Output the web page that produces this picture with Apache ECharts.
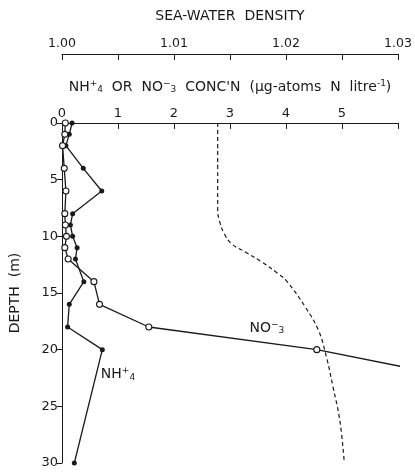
<!DOCTYPE html>
<html>
<head>
<meta charset="utf-8">
<script src="https://cdn.jsdelivr.net/npm/echarts@6/dist/echarts.min.js"></script>
<style>
  html, body { margin: 0; padding: 0; background: #ffffff; }
  #chart { width: 415px; height: 475px; }
</style>
</head>
<body>
<div id="chart"></div>
<script>
// ---- Data ----
const nh4Depth = [0, 1, 2, 4, 6, 8, 9, 10, 11, 12, 14, 16, 18, 20, 30];
const nh4Conc  = [0.18, 0.13, 0.07, 0.38, 0.71, 0.19, 0.15, 0.19, 0.27, 0.24, 0.39, 0.13, 0.10, 0.72, 0.22];

const no3Depth = [0, 1, 2, 4, 6, 8, 9, 10, 11, 12, 14, 16, 18, 20];
const no3Conc  = [0.06, 0.05, 0.01, 0.04, 0.07, 0.05, 0.06, 0.08, 0.05, 0.11, 0.57, 0.67, 1.55, 4.55];

// continuation of the NO3- line beyond the last sample
const no3TailDepth = [20, 21.5];
const no3TailConc  = [4.55, 6.08];

const densityDepth = [0, 2, 4, 6, 7.7, 8.6, 9.8, 10.7, 11.4, 12.3, 13.3, 14.0, 16.2, 18.3, 20.6, 23.3, 26.2, 29.9];
const densityVal   = [1.0139, 1.0139, 1.0139, 1.0139, 1.0139, 1.01405, 1.0145, 1.0152, 1.0164, 1.0179, 1.0193, 1.0201, 1.0217, 1.0229, 1.0236, 1.0242, 1.0248, 1.0252];

const concTicks    = [0, 1, 2, 3, 4, 5];
const densityTicks = ['1.00', '1.01', '1.02', '1.03'];
const depthTicks   = [0, 5, 10, 15, 20, 25, 30];

// annotation anchors (data coordinates)
const labelNO3 = [3.66, 18.1];
const labelNH4 = [1.0, 22.2];

const zip = (xs, ys) => xs.map((x, i) => [x, ys[i]]);

const FONT = 'DejaVu Sans';
const INK = '#1a1a1a';

const chart = echarts.init(document.getElementById('chart'), null, { renderer: 'canvas' });

const supsub = {
  sup: { fontFamily: FONT, fontSize: 9, color: INK, padding: [0, 0, 7, 0] },
  sub: { fontFamily: FONT, fontSize: 9, color: INK, padding: [6, 0, 0, 0] }
};

chart.setOption({
  backgroundColor: '#ffffff',
  animation: false,
  grid: { left: 57, right: 17, top: 123, bottom: 12, containLabel: false },
  xAxis: [
    {
      type: 'value', position: 'top', min: 0, max: 6, interval: 1,
      name: "NH{sup|+}{sub|4}  OR  NO{sup|−}{sub|3}  CONC'N  (µg-atoms  N  litre{sup|-1})",
      nameLocation: 'middle', nameGap: 28,
      nameTextStyle: { fontFamily: FONT, fontSize: 14, color: INK, rich: supsub },
      axisLine: { show: true, lineStyle: { color: INK, width: 1 } },
      axisTick: { show: true, inside: true, length: 6, lineStyle: { color: INK } },
      axisLabel: {
        margin: 3, fontFamily: FONT, fontSize: 13, color: INK,
        showMinLabel: true, showMaxLabel: true,
        formatter: v => (concTicks.indexOf(v) >= 0 ? String(v) : '')
      },
      splitLine: { show: false }
    },
    {
      type: 'value', position: 'top', offset: 69, min: 1.0, max: 1.03, interval: 0.005,
      name: 'SEA-WATER  DENSITY',
      nameLocation: 'middle', nameGap: 31,
      nameTextStyle: { fontFamily: FONT, fontSize: 14, color: INK },
      axisLine: { show: true, lineStyle: { color: INK, width: 1 } },
      axisTick: { show: true, inside: true, length: 6, lineStyle: { color: INK } },
      axisLabel: {
        margin: 4, fontFamily: FONT, fontSize: 12.5, color: INK,
        showMinLabel: true, showMaxLabel: true,
        formatter: v => { const s = v.toFixed(2); return (Math.abs(v * 100 - Math.round(v * 100)) < 1e-6 && densityTicks.indexOf(s) >= 0) ? s : ''; }
      },
      splitLine: { show: false }
    }
  ],
  yAxis: {
    type: 'value', inverse: true, min: 0, max: 30, interval: 5,
    name: 'DEPTH  (m)', nameLocation: 'middle', nameGap: 40, nameRotate: 90,
    nameTextStyle: { fontFamily: FONT, fontSize: 14, color: INK },
    axisLine: { show: true, lineStyle: { color: INK, width: 1 } },
    axisTick: { show: true, inside: false, length: 5, lineStyle: { color: INK } },
    axisLabel: {
      margin: 4, fontFamily: FONT, fontSize: 13, color: INK,
      formatter: v => (depthTicks.indexOf(v) >= 0 ? String(v) : '')
    },
    splitLine: { show: false }
  },
  series: [
    {
      name: 'density', type: 'line', xAxisIndex: 1, yAxisIndex: 0,
      data: zip(densityVal, densityDepth), smooth: 0.4, showSymbol: false,
      lineStyle: { color: INK, width: 1.2, type: [4, 3] }
    },
    {
      name: 'NO3 tail', type: 'line', xAxisIndex: 0, yAxisIndex: 0, clip: false,
      data: zip(no3TailConc, no3TailDepth), showSymbol: false,
      lineStyle: { color: INK, width: 1.4 }
    },
    {
      name: 'NH4', type: 'line', xAxisIndex: 0, yAxisIndex: 0, clip: false,
      data: zip(nh4Conc, nh4Depth), symbol: 'circle', symbolSize: 5,
      lineStyle: { color: INK, width: 1.3 },
      itemStyle: { color: INK, borderColor: INK, borderWidth: 0 }, z: 3
    },
    {
      name: 'NO3', type: 'line', xAxisIndex: 0, yAxisIndex: 0, clip: false,
      data: zip(no3Conc, no3Depth), symbol: 'circle', symbolSize: 6,
      lineStyle: { color: INK, width: 1.3 },
      itemStyle: { color: '#ffffff', borderColor: INK, borderWidth: 1.1 }, z: 4
    }
  ]
});

const pNO3 = chart.convertToPixel({ xAxisIndex: 0, yAxisIndex: 0 }, labelNO3);
const pNH4 = chart.convertToPixel({ xAxisIndex: 0, yAxisIndex: 0 }, labelNH4);

const annRich = {
  sup: { fontSize: 9, fontFamily: FONT, fill: INK, padding: [0, 0, 7, 0] },
  sub: { fontSize: 9, fontFamily: FONT, fill: INK, padding: [6, 0, 0, 0] }
};

chart.setOption({
  graphic: [
    {
      type: 'text', x: pNO3[0], y: pNO3[1],
      style: { text: 'NO{sup|−}{sub|3}', align: 'center', verticalAlign: 'middle', font: '14px "DejaVu Sans"', fill: INK, rich: annRich }
    },
    {
      type: 'text', x: pNH4[0], y: pNH4[1],
      style: { text: 'NH{sup|+}{sub|4}', align: 'center', verticalAlign: 'middle', font: '14px "DejaVu Sans"', fill: INK, rich: annRich }
    }
  ]
});
</script>
</body>
</html>
